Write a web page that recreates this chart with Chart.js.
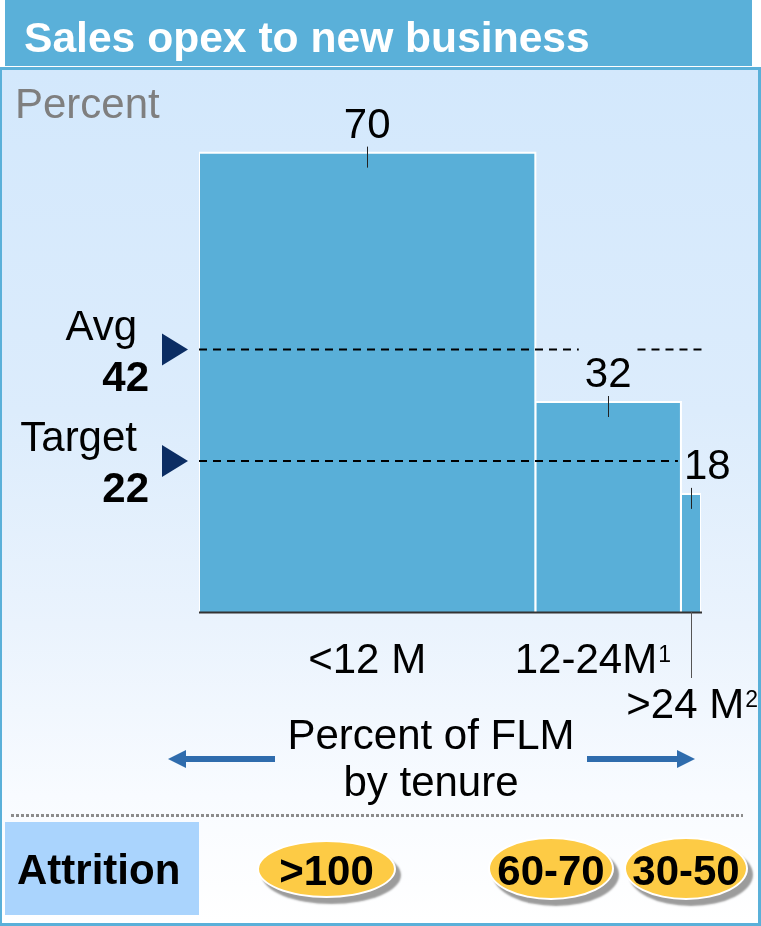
<!DOCTYPE html>
<html>
<head>
<meta charset="utf-8">
<script src="https://cdn.jsdelivr.net/npm/chart.js@4"></script>
<style>
  html, body { margin:0; padding:0; background:#ffffff; }
  body { width:761px; height:926px; position:relative; overflow:hidden;
         font-family:"Liberation Sans", Arial, sans-serif; }
  .abs { position:absolute; white-space:nowrap; line-height:1; }
  #header { position:absolute; left:5px; top:0; width:747px; height:66px; background:#5ab0d9; }
  #panel { position:absolute; left:0; top:67px; width:761px; height:859px; box-sizing:border-box;
           border:3px solid #5ab0d9; border-left-width:2px;
           background:linear-gradient(to bottom, #d3e8fc 0%, #dcecfc 40%, #eaf3fd 65%, #f8fbff 85%, #ffffff 100%); }
  #chartCanvas { position:absolute; left:0; top:0; z-index:2; }
  #dots { position:absolute; left:11px; top:814px; width:732px; height:3px;
          background:repeating-linear-gradient(to right, #8c8c8c 0 3px, transparent 3px 5px); z-index:3; }
  #attrBox { position:absolute; left:5px; top:822px; width:194px; height:93px; background:#aad4fd; z-index:3; }
  .ell { position:absolute; box-sizing:border-box; border:2px solid #ffffff; border-radius:50%;
         background:#fdcb45; box-shadow:5px 6px 2px #9c9c9c; text-align:center;
         font-weight:bold; font-size:42px; color:#000; z-index:4; }
  .txt { z-index:5; }
</style>
</head>
<body>
<div id="header"></div>
<div id="panel"></div>
<canvas id="chartCanvas" width="761" height="926"></canvas>
<div id="dots"></div>
<div id="attrBox"></div>
<div id="overlay"></div>
<script>
// ---- data ----
const categories   = ['<12 M', '12-24M', '>24 M'];
const categorySups = ['', '1', '2'];
const shareOfFLM   = [67, 29, 4];      // bar widths, percent of FLM by tenure
const opexPercent  = [70, 32, 18];     // bar heights, sales opex to new business
const refNames     = ['Avg', 'Target'];
const refLabels    = ['42', '22'];
const refLevels    = [40, 23];         // where the dashed lines sit on the value scale
const attritionLabels = ['>100', '60-70', '30-50'];

const FONT = '"Liberation Sans", Arial, sans-serif';
const f = (s, b) => (b ? 'bold ' : '') + s + 'px ' + FONT;

// ---- static HTML text ----
const overlay = document.getElementById('overlay');
function addText(txt, opts) {
  const d = document.createElement('div');
  d.className = 'abs txt';
  d.textContent = txt;
  const size = opts.size || 42;
  d.style.fontSize = size + 'px';
  if (opts.bold) d.style.fontWeight = 'bold';
  d.style.color = opts.color || '#000';
  d.style.top = (opts.baseline - 0.8465 * size) + 'px';
  if (opts.center !== undefined) {
    d.style.left = opts.center + 'px';
    d.style.transform = 'translateX(-50%)';
  } else {
    d.style.left = opts.left + 'px';
  }
  d.style.zIndex = 6;
  overlay.appendChild(d);
  return d;
}
addText('Sales opex to new business', {left:24, baseline:52, bold:true, color:'#ffffff', size:42.6});
addText('Percent', {left:15, baseline:119, color:'#7f7f7f'});
addText('Percent of FLM', {center:431, baseline:750});
addText('by tenure', {center:431, baseline:797});
addText('Attrition', {left:17, baseline:885, bold:true});

const ellBoxes = [[257, 840, 139, 58], [488, 837, 126, 63], [624, 837, 124, 63]];
attritionLabels.forEach((lab, i) => {
  const [l, t, w, h] = ellBoxes[i];
  const e = document.createElement('div');
  e.className = 'ell';
  e.style.left = l + 'px'; e.style.top = t + 'px';
  e.style.width = w + 'px'; e.style.height = h + 'px';
  e.style.lineHeight = (h - 4) + 'px';
  e.style.paddingTop = '2px';
  e.textContent = lab;
  overlay.appendChild(e);
});

// ---- bars as filled polygons through the library's scales ----
let cum = 0;
const barDatasets = shareOfFLM.map((w, i) => {
  const x0 = cum; cum += w;
  const v = opexPercent[i];
  return {
    label: categories[i],
    data: [{x:x0, y:0}, {x:x0, y:v}, {x:cum, y:v}, {x:cum, y:0}],
    fill: 'origin',
    backgroundColor: '#59afd8',
    borderColor: '#ffffff',
    borderWidth: 2,
    pointRadius: 0,
    tension: 0
  };
});

const annotate = {
  id: 'annotate',
  afterDatasetsDraw(chart) {
    const ctx = chart.ctx;
    const ca = chart.chartArea;
    const xs = chart.scales.x, ys = chart.scales.y;
    const y0 = ys.getPixelForValue(0);
    ctx.save();

    // baseline axis
    ctx.strokeStyle = '#333333'; ctx.lineWidth = 2;
    ctx.beginPath(); ctx.moveTo(ca.left, y0 + 0.5); ctx.lineTo(ca.right + 1, y0 + 0.5); ctx.stroke();

    // value labels + ticks
    const boxes = [];
    let c = 0;
    const barGeo = [];
    ctx.textBaseline = 'alphabetic';
    opexPercent.forEach((v, i) => {
      const x0 = xs.getPixelForValue(c);
      const x1 = xs.getPixelForValue(c + shareOfFLM[i]);
      c += shareOfFLM[i];
      const cx = (x0 + x1) / 2;
      const top = ys.getPixelForValue(v);
      barGeo.push({x0, x1, cx, top});
      ctx.font = f(42);
      const lab = String(v);
      const tw = ctx.measureText(lab).width;
      let lx = (tw + 8 > x1 - x0) ? x0 + 3 : cx - tw / 2;
      const base = top - 15;
      ctx.fillStyle = '#000';
      ctx.textAlign = 'left';
      ctx.fillText(lab, lx, base);
      boxes.push({l: lx - 6, r: lx + tw + 6, t: base - 40, b: base + 9});
      ctx.strokeStyle = '#222'; ctx.lineWidth = 1;
      const tx = Math.round(cx) + 0.5;
      ctx.beginPath(); ctx.moveTo(tx, top - 6); ctx.lineTo(tx, top + 15); ctx.stroke();
    });

    // reference lines
    refLevels.forEach((lvl, i) => {
      const ly = ys.getPixelForValue(lvl);
      let segs = [[ca.left, ca.right + 1]];
      boxes.forEach(b => {
        if (ly >= b.t && ly <= b.b) {
          const out = [];
          segs.forEach(([a, z]) => {
            if (b.r <= a || b.l >= z) { out.push([a, z]); return; }
            if (b.l > a) out.push([a, b.l]);
            if (b.r < z) out.push([b.r, z]);
          });
          segs = out;
        }
      });
      ctx.strokeStyle = '#000'; ctx.lineWidth = 2; ctx.setLineDash([8, 6]);
      segs.forEach(([a, z]) => {
        ctx.beginPath(); ctx.moveTo(a, ly); ctx.lineTo(z, ly); ctx.stroke();
      });
      ctx.setLineDash([]);
      // marker triangle
      ctx.fillStyle = '#0b2d63';
      ctx.beginPath();
      ctx.moveTo(ca.left - 37, ly - 16);
      ctx.lineTo(ca.left - 11, ly);
      ctx.lineTo(ca.left - 37, ly + 16);
      ctx.closePath(); ctx.fill();
      // labels
      ctx.fillStyle = '#000';
      ctx.textAlign = 'right';
      ctx.font = f(42);
      ctx.fillText(refNames[i], ca.left - 62, ly - 10);
      ctx.font = f(42, true);
      ctx.fillText(refLabels[i], ca.left - 50, ly + 41);
    });

    // category labels
    function labelWidth(i) {
      ctx.font = f(42); const w1 = ctx.measureText(categories[i]).width;
      ctx.font = f(23); const w2 = categorySups[i] ? ctx.measureText(categorySups[i]).width + 1 : 0;
      return [w1, w2];
    }
    function drawLabel(i, left, base) {
      const [w1] = labelWidth(i);
      ctx.textAlign = 'left'; ctx.fillStyle = '#000';
      ctx.font = f(42); ctx.fillText(categories[i], left, base);
      if (categorySups[i]) { ctx.font = f(23); ctx.fillText(categorySups[i], left + w1 + 1, base - 11); }
    }
    categories.forEach((cat, i) => {
      const g = barGeo[i];
      const [w1, w2] = labelWidth(i);
      const w = w1 + w2;
      if (i === categories.length - 1 && g.x1 - g.x0 < 60) {
        // narrow bar: leader line and label below
        ctx.strokeStyle = '#555'; ctx.lineWidth = 1;
        const lx = Math.round(g.cx) + 0.5;
        ctx.beginPath(); ctx.moveTo(lx, y0); ctx.lineTo(lx, y0 + 66); ctx.stroke();
        drawLabel(i, chart.width - 3 - w, y0 + 106);
      } else {
        let left = g.cx - w / 2;
        if (left + w > g.x1 - 10) left = g.x1 - 10 - w;
        drawLabel(i, left, y0 + 61);
      }
    });

    // tenure arrows
    ctx.fillStyle = '#2f6cad';
    const ay = y0 + 147;
    function arrow(xFrom, xTip) {
      const dir = Math.sign(xTip - xFrom);
      const hb = xTip - dir * 18;
      ctx.fillRect(Math.min(xFrom, hb), ay - 3, Math.abs(hb - xFrom), 6);
      ctx.beginPath();
      ctx.moveTo(xTip, ay); ctx.lineTo(hb, ay - 9); ctx.lineTo(hb, ay + 9); ctx.closePath(); ctx.fill();
    }
    arrow(275, ca.left - 31);
    arrow(587, ca.right - 6);

    ctx.restore();
  }
};

new Chart(document.getElementById('chartCanvas'), {
  type: 'line',
  data: { datasets: barDatasets },
  options: {
    responsive: false,
    animation: false,
    devicePixelRatio: 1,
    layout: { padding: { left: 199, right: 60, top: 87, bottom: 314 } },
    scales: {
      x: { type: 'linear', min: 0, max: 100, display: false },
      y: { type: 'linear', min: 0, max: 80, display: false }
    },
    plugins: { legend: { display: false }, tooltip: { enabled: false } },
    elements: { point: { radius: 0 }, line: { tension: 0 } }
  },
  plugins: [annotate]
});
</script>
</body>
</html>
